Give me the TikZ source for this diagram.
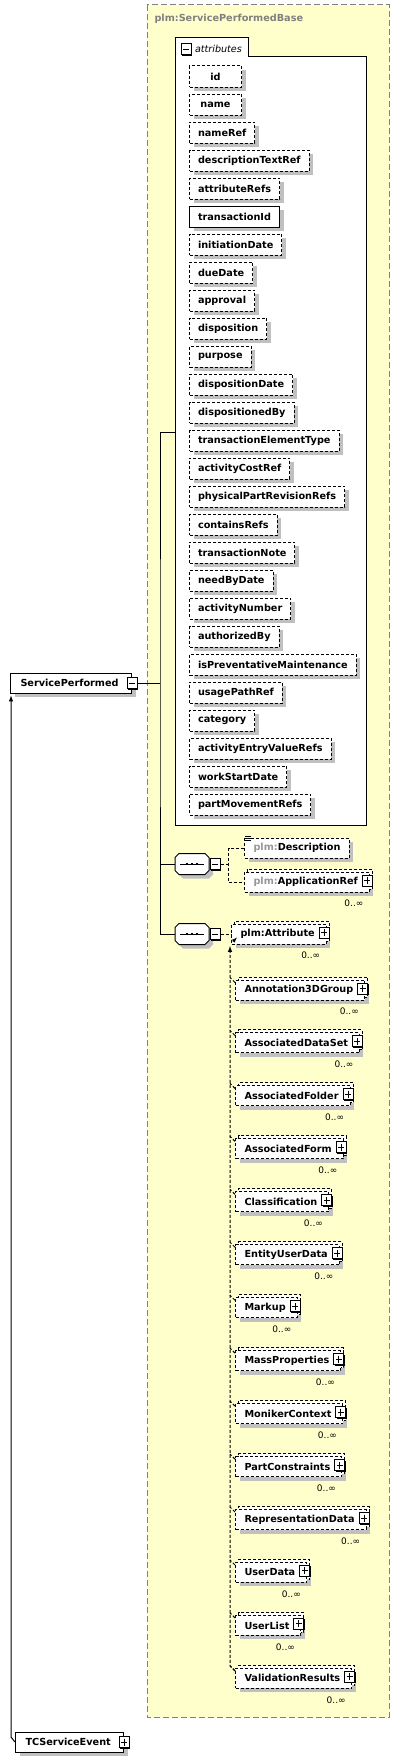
\documentclass[tikz,border=0pt]{standalone}
\usepackage{fontspec}
\setmainfont{DejaVu Sans}
\usetikzlibrary{positioning,shadows}

\definecolor{basefill}{RGB}{255,255,204}
\definecolor{basegray}{RGB}{128,128,128}
\definecolor{shadowgray}{RGB}{192,192,192}
\definecolor{prefixgray}{RGB}{150,150,150}

\tikzset{
    boxfont/.style={font=\fontsize{9.7}{11}\selectfont\bfseries},
    dashline/.style={dash pattern=on 3pt off 2pt},
    greyshadow/.style={general shadow={fill=shadowgray, shadow xshift=4pt, shadow yshift=-4pt}},
    attr/.style={boxfont, draw, dashline, fill=white, anchor=west,
                 inner xsep=8.5pt, inner ysep=0pt, minimum height=21pt,
                 minimum width=52pt, greyshadow},
    attrreq/.style={attr, solid},
    elem/.style={boxfont, draw, dashline, fill=white, anchor=west,
                 inner xsep=9pt, inner ysep=0pt, minimum height=20pt, greyshadow},
    multi/.style={elem,
                  copy shadow={draw=black, fill=white, dashline, shadow xshift=3pt, shadow yshift=3pt},
                  execute at end node={\hspace*{2.5pt}}},
    topel/.style={boxfont, draw, fill=white, anchor=west, inner xsep=10pt,
                  inner ysep=0pt, minimum height=20pt, greyshadow,
                  execute at end node={\hspace*{3pt}}},
    minusbox/.style={draw, solid, fill=white, minimum width=10pt, minimum height=11pt, inner sep=0pt,
                     general shadow={fill=black, shadow xshift=1pt, shadow yshift=-1pt},
                     path picture={\draw[line width=1pt] ([xshift=2pt]path picture bounding box.west)
                        -- ([xshift=-2pt]path picture bounding box.east);}},
    plusbox/.style={minusbox,
                    path picture={\draw[line width=1pt] ([xshift=2pt]path picture bounding box.west)
                        -- ([xshift=-2pt]path picture bounding box.east)
                        ([yshift=-2pt]path picture bounding box.north)
                        -- ([yshift=2pt]path picture bounding box.south);}},
    seq/.style={minimum width=33pt, minimum height=20pt, inner sep=0pt, anchor=west},
    octagon/.style={draw, solid, fill=white, greyshadow},
    card/.style={font=\fontsize{9}{10}\selectfont, inner sep=0pt, anchor=north east},
}

\begin{document}
\begin{tikzpicture}[x=1pt, y=-1pt, line width=1pt]
    \useasboundingbox (0,0) rectangle (400,1761);

    % base type
    \draw[basegray, dash pattern=on 6pt off 3pt, fill=basefill] (147,5) rectangle (389,1717);
    \node[boxfont, text=basegray, anchor=west, inner sep=0pt] (basettl) at (154,19) {plm:ServicePerformedBase};

    % attributes group
    \draw[fill=white] (175,825) -- (175,38) -- (248,38) -- (248,57) -- (366,57) -- (366,825) -- cycle;
    \node[minusbox] (attm) at (186,49.5) {};
    \node[font=\fontsize{9.6}{11}\selectfont\itshape, anchor=west, inner sep=0pt] (attlbl) at (194.5,48.5) {attributes};
    \coordinate (attgrp) at (175,432);
    \foreach \nm/\st [count=\i from 0] in {id/attr, name/attr, nameRef/attr, descriptionTextRef/attr,
        attributeRefs/attr, transactionId/attrreq, initiationDate/attr, dueDate/attr, approval/attr,
        disposition/attr, purpose/attr, dispositionDate/attr, dispositionedBy/attr,
        transactionElementType/attr, activityCostRef/attr, physicalPartRevisionRefs/attr,
        containsRefs/attr, transactionNote/attr, needByDate/attr, activityNumber/attr,
        authorizedBy/attr, isPreventativeMaintenance/attr, usagePathRef/attr, category/attr,
        activityEntryValueRefs/attr, workStartDate/attr, partMovementRefs/attr}
        \node[\st] (a\i) at (189,76.5+28*\i) {\nm};

    % left elements
    \node[topel] (sp) at (10,683) {ServicePerformed};
    \node[minusbox] (spm) at (sp.east) {};
    \node[topel] (tc) at (15,1742) {TCServiceEvent};
    \node[plusbox] (tcp) at (tc.east) {};
    \draw[-latex] (tc.west) -- ++(-4,-5) -- ([xshift=1pt,yshift=-2pt]sp.south west);

    % sequences
    \node[seq] (s1) at (175,864) {};
    \node[seq] (s2) at (175,934) {};
    \foreach \s in {s1,s2}{
        \draw[octagon] ([xshift=4pt]\s.north west) -- ([xshift=-4pt]\s.north east)
            -- ([yshift=-4pt]\s.north east) -- ([yshift=4pt]\s.south east)
            -- ([xshift=-4pt]\s.south east) -- ([xshift=4pt]\s.south west)
            -- ([yshift=4pt]\s.south west) -- ([yshift=-4pt]\s.north west) -- cycle;
        \draw ([xshift=-12pt]\s.center) -- ([xshift=12pt]\s.center);
        \foreach \d in {-5,0,5}
            \fill ([xshift=\d pt]\s.center) +(-1.3,-1.3) rectangle +(1.3,1.3);
    }
    \node[minusbox, right=0.5pt of s1] (s1m) {};
    \node[minusbox, right=0.5pt of s2] (s2m) {};

    \coordinate (spine) at (160,683);
    \draw (spm.east) -- (spine);
    \draw (attgrp) -| (spine) |- (s2.west);
    \draw (spine |- s1.west) -- (s1.west);

    % first sequence
    \node[elem] (desc) at (244,848) {{\color{prefixgray}plm:}Description};
    \foreach \d in {1,3,5}
        \draw[line width=.8pt] ([xshift=1pt,yshift={2-\d}]desc.north west) -- ++(6,0);
    \node[multi] (appref) at (244,882) {{\color{prefixgray}plm:}ApplicationRef};
    \node[plusbox, anchor=east] (apprefp) at ([xshift=3pt,yshift=1.5pt]appref.east) {};
    \node[card] (apprefc) at ([xshift=-6pt,yshift=-7pt]appref.south east) {0..∞};
    \coordinate[right=8pt of s1m] (ch1);
    \draw[dashline] (s1m) -- (ch1);
    \draw[dashline] (desc.west) -| (ch1) |- (appref.west);

    % second sequence
    \node[multi] (attr) at (231,934) {plm:Attribute};
    \node[plusbox, anchor=east] (attrp) at ([xshift=3pt,yshift=1.5pt]attr.east) {};
    \node[card] (attrc) at ([xshift=-6pt,yshift=-7pt]attr.south east) {0..∞};
    \draw[-latex, line width=.8pt] ([xshift=2pt,yshift=3pt]attr.south west) -- ++(4,-4);
    \draw[dashline] (s2m) -- (attr);
    \coordinate (sgtop) at (230,946);

    \foreach \nm [count=\k from 0] in {Annotation3DGroup, AssociatedDataSet, AssociatedFolder,
        AssociatedForm, Classification, EntityUserData, Markup, MassProperties, MonikerContext,
        PartConstraints, RepresentationData, UserData, UserList, ValidationResults}{
        \node[multi] (m\k) at (235,990+52.95*\k) {\nm};
        \node[plusbox, anchor=east] (mp\k) at ([xshift=3pt,yshift=1.5pt]m\k.east) {};
        \node[card] (mc\k) at ([xshift=-6pt,yshift=-7pt]m\k.south east) {0..∞};
        \draw[dashline] ([yshift=-3pt]m\k.north west) -- ++(-5,-5);
    }
    \draw[dashline, -latex] ([yshift=-3pt]m13.north west) -- ++(-5,-5) -- (sgtop);

\end{tikzpicture}
\end{document}
